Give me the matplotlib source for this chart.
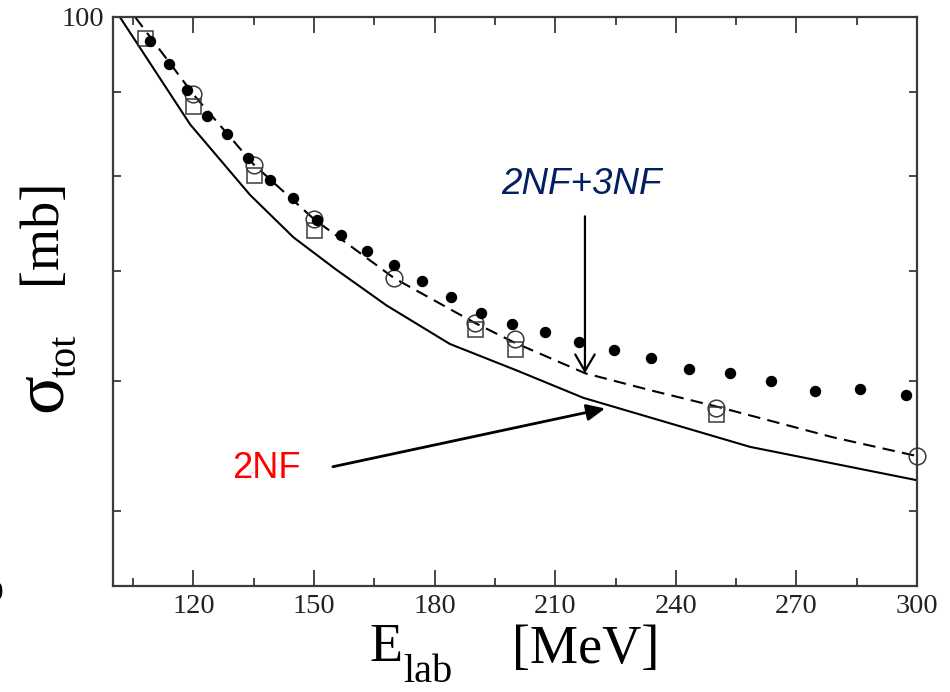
import matplotlib
matplotlib.use("Agg")
import matplotlib.pyplot as plt

# values
e_dots = [109.3, 113.9, 118.5, 123.4, 128.4, 133.6, 139.1, 144.7, 150.7, 156.7,
          163.1, 169.9, 176.8, 184.0, 191.5, 199.3, 207.5, 216.0, 224.7, 233.8,
          243.4, 253.5, 263.7, 274.6, 285.8, 297.3]
sig_dots = [96.7, 93.6, 90.2, 87.0, 84.9, 82.1, 79.6, 77.6, 75.2, 73.6,
            72.0, 70.6, 69.0, 67.5, 66.0, 65.0, 64.3, 63.4, 62.7, 62.0,
            61.0, 60.7, 60.0, 59.2, 59.3, 58.8]

e_circ = [120, 135, 150, 170, 190, 200, 250, 300]
sig_circ = [89.7, 81.3, 75.3, 69.3, 65.1, 63.6, 57.8, 54.0]

e_sq = [108, 120, 135, 150, 190, 200, 250]
sig_sq = [97.1, 88.2, 80.1, 74.2, 64.5, 62.8, 57.3]

e_2nf = [101.7, 119.2, 134.1, 144.9, 155.7, 168.1, 183.8, 200.4, 217.0, 258.5, 300]
sig_2nf = [100, 86.0, 77.9, 73.4, 70.1, 66.7, 63.2, 60.9, 58.6, 54.7, 52.2]

e_3nf = [105.5, 120, 135, 150, 170, 190, 200, 217.5, 234, 250, 279, 300]
sig_3nf = [100, 89.7, 81.3, 75.3, 69.3, 65.1, 63.3, 60.65, 59.2, 57.9, 55.45, 54.0]

serif = "Liberation Serif"
sans = "Liberation Sans"
frame = "#3a3a3a"

fig = plt.figure(figsize=(9.5, 6.92), dpi=100)
ax = fig.add_axes([113/950, 1-586/692, (917-113)/950, (586-17)/692])

ax.plot(e_2nf, sig_2nf, color="black", lw=1.5)
ax.plot(e_3nf, sig_3nf, color="black", lw=1.5, dashes=(6, 3.5))
ax.plot(e_sq, sig_sq, "s", ms=10.8, mfc="none", mec=frame, mew=1.1, clip_on=False)
ax.plot(e_circ, sig_circ, "o", ms=12, mfc="none", mec=frame, mew=1.1, clip_on=False)
ax.plot(e_dots, sig_dots, "o", ms=7.2, color="black", clip_on=False)

ax.set_yscale("log")
ax.set_xlim(100, 300)
ax.set_ylim(45, 100)
ax.set_xticks([120, 150, 180, 210, 240, 270, 300])
ax.set_xticks([105, 135, 165, 195, 225, 255, 285], minor=True)
ax.set_yticks([100])
ax.set_yticklabels(["100"])
ax.set_yticks([50, 60, 70, 80, 90], minor=True)
ax.yaxis.set_minor_formatter(matplotlib.ticker.NullFormatter())

ax.tick_params(which="both", direction="in", top=True, right=True,
               color=frame, width=1.3, labelsize=20.5, pad=6, labelcolor="#222222")
ax.tick_params(which="major", length=11.5)
ax.tick_params(which="minor", length=5.8)
ax.tick_params(axis="y", which="major", length=5.8)
for lab in ax.get_xticklabels() + ax.get_yticklabels():
    lab.set_family(serif)
for sp in ax.spines.values():
    sp.set_color(frame)
    sp.set_linewidth(1.6)

# arrows and labels
ax.annotate("", xy=(217.4, 60.65), xytext=(217.4, 75.6),
            arrowprops=dict(arrowstyle="->,head_length=0.6,head_width=0.35",
                            color="black", lw=1.6, mutation_scale=20,
                            shrinkA=0, shrinkB=0))
ax.text(216.5, 79.0, "2NF+3NF", color="#002060", fontsize=26.5,
        family=sans, style="italic", ha="center", va="center")
ax.annotate("", xy=(222.4, 57.73), xytext=(154.7, 53.2),
            arrowprops=dict(arrowstyle="-|>,head_length=0.55,head_width=0.25",
                            color="black", lw=2, mutation_scale=20,
                            shrinkA=0, shrinkB=0))
ax.text(138.2, 53.06, "2NF", color="red", fontsize=26, family=sans,
        ha="center", va="center")

# axis titles, drawn piecewise like the original
fig.text(386/950, 1-648/692, "E", fontsize=39, family=serif, ha="center", va="center")
fig.text(428/950, 1-672/692, "lab", fontsize=29, family=serif, ha="center", va="center")
fig.text(586/950, 1-650/692, "[MeV]", fontsize=39, family=serif, ha="center", va="center")

fig.text(43/950, 1-392/692, "\u03c3", fontsize=52, family=serif, rotation=90,
         ha="center", va="center")
fig.text(66/950, 1-356/692, "tot", fontsize=29, family=serif, rotation=90,
         ha="center", va="center")
fig.text(42/950, 1-231/692, "[mb]", fontsize=39, family=serif, rotation=90,
         ha="center", va="center")

# cropped tick label remnant at the lower left edge
fig.text(4/950, 1-593/692, "50", fontsize=20.5, family=serif, ha="right", va="center")

fig.savefig("out.png", dpi=100)
